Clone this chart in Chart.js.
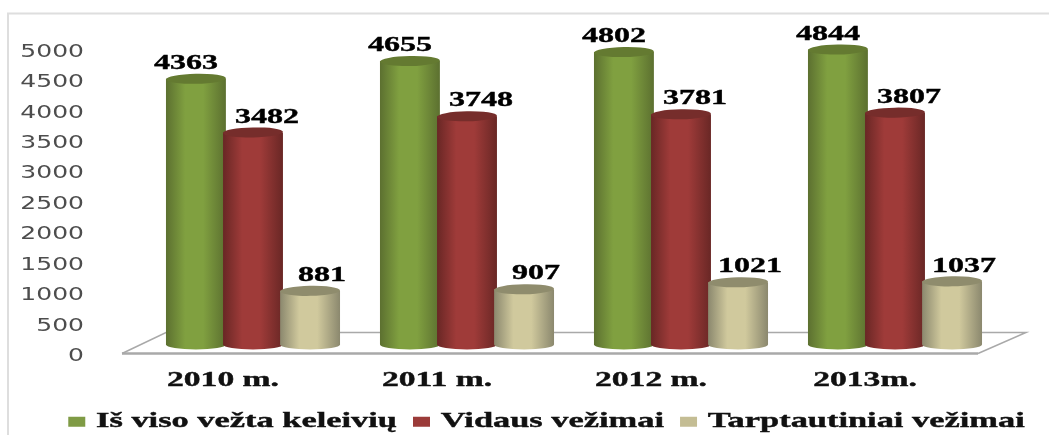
<!DOCTYPE html>
<html>
<head>
<meta charset="utf-8">
<style>
    html, body { margin: 0; padding: 0; background: #fff; overflow: hidden; }
    #box { width: 1049px; height: 435px; }
    canvas { filter: blur(0.5px); }
</style>
<script src="https://cdn.jsdelivr.net/npm/chart.js@4/dist/chart.umd.js"></script>
</head>
<body>
<div id="box"><canvas id="myChart"></canvas></div>
<script>
const categories = ['2010 m.', '2011 m.', '2012 m.', '2013m.'];
const totalTrips = [4363, 4655, 4802, 4844];
const domesticTrips = [3482, 3748, 3781, 3807];
const internationalTrips = [881, 907, 1021, 1037];
const seriesNames = ['Iš viso vežta keleivių', 'Vidaus vežimai', 'Tarptautiniai vežimai'];

// Depth of the fake 3D floor: bars stand in the middle of it
const depthX = 44, depthY = -21;
const barShiftX = 24, barShiftY = -9;
const capRadius = 5;

// edge, light, cap colours for each series
const shades = [
    { edge: '#5c7030', light: '#80a040', cap: '#647a31' },
    { edge: '#692725', light: '#9f3b39', cap: '#762d2b' },
    { edge: '#8b886e', light: '#d0c99d', cap: '#8f8c6d' }
];
const labelShift = [-10, 14, 12];

// The source picture is stretched sideways, so stretch all canvas text too
const ctx = document.getElementById('myChart').getContext('2d');
function textStretch() {
    return ctx.font.indexOf('Serif') >= 0 ? 1.6 : 1.39;
}
const origFillText = ctx.fillText.bind(ctx);
const origMeasureText = ctx.measureText.bind(ctx);
ctx.fillText = function(text, x, y) {
    const k = textStretch();
    const serif = ctx.font.indexOf('Serif') >= 0;
    ctx.save();
    ctx.translate(x, y);
    ctx.scale(k, 1);
    origFillText(text, 0, 0);
    if (serif) {
        // the source's bold text is heavier than the font's
        ctx.strokeStyle = ctx.fillStyle;
        ctx.lineWidth = 0.4;
        ctx.strokeText(text, 0, 0);
    }
    ctx.restore();
};
ctx.measureText = function(text) {
    const m = origMeasureText(text);
    return { width: m.width * textStretch() };
};

function cylinderGradient(left, right, s) {
    let g = ctx.createLinearGradient(left, 0, right, 0);
    g.addColorStop(0, s.edge);
    g.addColorStop(0.32, s.light);
    g.addColorStop(0.62, s.light);
    g.addColorStop(1, s.edge);
    return g;
}

const fakeDepth = {
    id: 'fakeDepth',
    beforeDraw(chart) {
        // legend sits off centre and lower in the source
        const legend = chart.legend;
        legend.left = 22;
        legend.right = 1049 + 22;
        legend.top = 395;
    },
    beforeDatasetsDraw(chart) {
        const area = chart.chartArea;
        ctx.save();

        // page frame
        ctx.strokeStyle = '#dedede';
        ctx.lineWidth = 2;
        ctx.beginPath();
        ctx.moveTo(8, 435);
        ctx.lineTo(8, 13.5);
        ctx.lineTo(1049, 13.5);
        ctx.stroke();

        // floor
        ctx.strokeStyle = '#a9a9a9';
        ctx.lineWidth = 1.5;
        ctx.beginPath();
        ctx.moveTo(area.left, area.bottom);
        ctx.lineTo(area.left + depthX, area.bottom + depthY);
        ctx.lineTo(area.right + depthX + 4, area.bottom + depthY);
        ctx.lineTo(area.right, area.bottom);
        ctx.stroke();
        ctx.lineWidth = 2.5;
        ctx.beginPath();
        ctx.moveTo(area.left, area.bottom);
        ctx.lineTo(area.right, area.bottom);
        ctx.stroke();

        // cylinders, left to right so that later ones overlap
        categories.forEach((c, i) => {
            chart.data.datasets.forEach((ds, d) => {
                const bar = chart.getDatasetMeta(d).data[i];
                const r = bar.width / 2;
                const x = bar.x + barShiftX;
                const top = bar.y + barShiftY;
                const base = bar.base + barShiftY;
                ctx.fillStyle = cylinderGradient(x - r, x + r, shades[d]);
                ctx.beginPath();
                ctx.moveTo(x - r, top);
                ctx.lineTo(x - r, base);
                ctx.ellipse(x, base, r, capRadius, 0, Math.PI, 0, true);
                ctx.lineTo(x + r, top);
                ctx.closePath();
                ctx.fill();
                ctx.fillStyle = shades[d].cap;
                ctx.beginPath();
                ctx.ellipse(x, top, r, capRadius, -0.02, 0, Math.PI * 2);
                ctx.fill();
            });
        });

        // value labels
        ctx.fillStyle = '#000';
        ctx.font = 'bold 20px "Liberation Serif"';
        ctx.textAlign = 'center';
        ctx.textBaseline = 'middle';
        chart.data.datasets.forEach((ds, d) => {
            chart.getDatasetMeta(d).data.forEach((bar, i) => {
                ctx.fillText(ds.data[i], bar.x + barShiftX + labelShift[d], bar.y + barShiftY - 15);
            });
        });
        ctx.restore();
    },
    beforeDatasetDraw() {
        return false; // the cylinders above replace the flat bars
    }
};

const myChart = new Chart(ctx, {
    type: 'bar',
    data: {
        labels: categories,
        datasets: [
            { label: seriesNames[0], data: totalTrips, backgroundColor: '#7f9b45' },
            { label: seriesNames[1], data: domesticTrips, backgroundColor: '#9b3b39' },
            { label: seriesNames[2], data: internationalTrips, backgroundColor: '#c4bd94' }
        ]
    },
    options: {
        responsive: true,
        maintainAspectRatio: false,
        animation: false,
        layout: { padding: { top: 49, right: 0, left: 0, bottom: -1 } },
        datasets: { bar: { categoryPercentage: 0.8, barPercentage: 1.05 } },
        plugins: {
            tooltip: { enabled: false },
            legend: {
                position: 'bottom',
                labels: {
                    boxWidth: 17,
                    boxHeight: 10,
                    padding: 16,
                    color: '#111',
                    font: { family: '"Liberation Serif"', weight: 'bold', size: 21.5 }
                }
            }
        },
        scales: {
            x: {
                grid: { display: false },
                border: { display: false },
                afterFit(scale) { scale.height = 35; },
                ticks: {
                    padding: 6,
                    labelOffset: -6,
                    color: '#111',
                    maxRotation: 0,
                    font: { family: '"Liberation Serif"', weight: 'bold', size: 21 }
                }
            },
            y: {
                min: 0,
                max: 5000,
                grid: { display: false },
                border: { display: false },
                afterFit(scale) { scale.width = 122; },
                ticks: {
                    stepSize: 500,
                    padding: 30,
                    labelOffset: 3,
                    color: '#4d4d4d',
                    font: { family: '"DejaVu Sans"', size: 18 },
                    callback: function(value) { return String(value); }
                }
            },
            // empty axis, only keeps the floor's depth room on the right
            spacer: {
                position: 'right',
                grid: { display: false },
                border: { display: false },
                ticks: { display: false },
                afterFit(scale) { scale.width = 71; }
            }
        }
    },
    plugins: [fakeDepth]
});
</script>
</body>
</html>
